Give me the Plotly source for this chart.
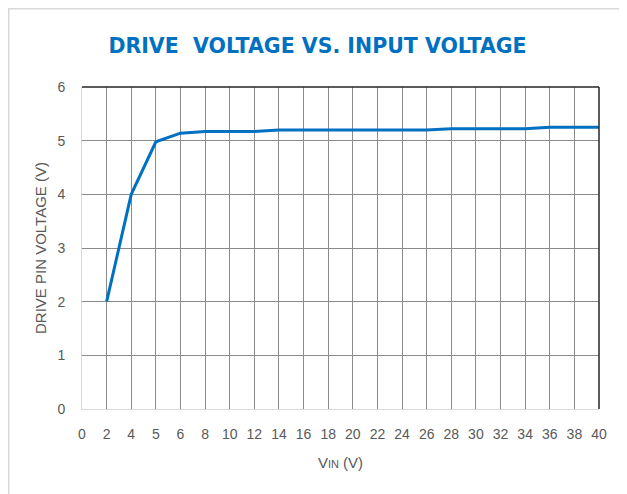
import plotly.graph_objects as go

# Data
x_categories = [0, 2, 4, 5, 6, 8, 10, 12, 14, 16, 18, 20, 22, 24, 26, 28, 30, 32, 34, 36, 38, 40]
vin = [2, 4, 5, 6, 8, 10, 12, 14, 16, 18, 20, 22, 24, 26, 28, 30, 32, 34, 36, 38, 40]
drive_v = [2.0, 4.0, 4.98, 5.14, 5.17, 5.17, 5.17, 5.2, 5.2, 5.2, 5.2, 5.2, 5.2, 5.2,
           5.22, 5.22, 5.22, 5.22, 5.25, 5.25, 5.25]
y_ticks = [0, 1, 2, 3, 4, 5, 6]

title_text = "DRIVE\u00a0 VOLTAGE VS. INPUT VOLTAGE"
x_title = "V<span style='font-size:11px'>IN</span> (V)"
y_title = "DRIVE PIN VOLTAGE (V)"

blue = "#0070C0"
label_gray = "#595959"
font_family = "Liberation Sans"

W, H = 619, 486
L, R, T, B = 74, 28, 79, 85
pw, ph = W - L - R, H - T - B

fig = go.Figure()
fig.add_trace(go.Scatter(
    x=[str(v) for v in vin], y=drive_v, mode="lines",
    line=dict(color=blue, width=3), showlegend=False, hoverinfo="x+y",
))

fig.update_layout(
    width=W, height=H,
    paper_bgcolor="white", plot_bgcolor="white",
    margin=dict(l=L, r=R, t=T, b=B),
    title=dict(text=title_text, x=0.5, xanchor="center", y=1 - 38 / H, yanchor="middle",
               yref="container",
               font=dict(family="DejaVu Sans", size=20.5, color=blue, weight="bold")),
    font=dict(family=font_family, color=label_gray, size=14),
)

fig.update_xaxes(
    type="category", categoryorder="array", categoryarray=[str(c) for c in x_categories],
    range=[0, len(x_categories) - 1],
    showgrid=True, gridcolor="#8a8a8a", gridwidth=1,
    showline=True, linecolor="#d9d9d9", linewidth=1,
    ticks="", ticklabelstandoff=12,
    tickfont=dict(family=font_family, size=14, color=label_gray),
    title=dict(text=x_title, font=dict(family=font_family, size=15, color=label_gray), standoff=16),
    zeroline=False,
)
fig.update_yaxes(
    range=[0, 6], tickvals=y_ticks,
    showgrid=True, gridcolor="#8a8a8a", gridwidth=1,
    showline=True, linecolor="#d9d9d9", linewidth=1,
    ticks="", ticklabelstandoff=13,
    tickfont=dict(family=font_family, size=14, color=label_gray),
    title=dict(text=y_title, font=dict(family=font_family, size=15, color=label_gray), standoff=7),
    zeroline=False,
)

# dark top and right frame edges
fig.add_shape(type="line", xref="paper", yref="paper", x0=0, x1=1, y0=1, y1=1,
              line=dict(color="#262626", width=1.5))
fig.add_shape(type="line", xref="paper", yref="paper", x0=1, x1=1, y0=0, y1=1,
              line=dict(color="#262626", width=1.5))
# outer chart border
fig.add_shape(type="rect", xref="paper", yref="paper",
              x0=(0.5 - L) / pw, x1=(612 - L) / pw, y0=-(B + 5) / ph, y1=(ph + T - 0.5) / ph,
              line=dict(color="#d9d9d9", width=2), layer="below")

fig.write_html("out.html")
